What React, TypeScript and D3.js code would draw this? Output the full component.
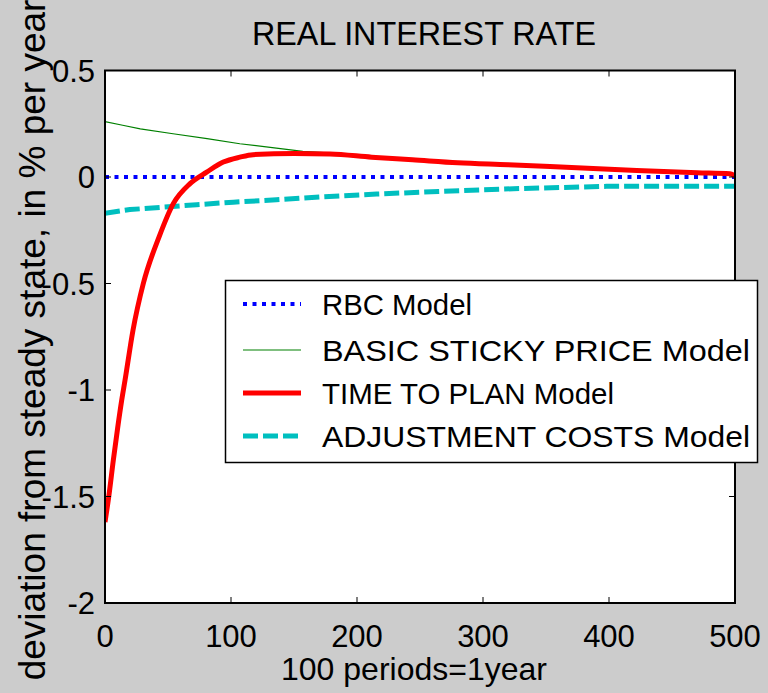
import React from "react";
import * as d3 from "d3";

const xTicks = [0, 100, 200, 300, 400, 500];
const yTicks = [0.5, 0, -0.5, -1, -1.5, -2];
const yTickLabels = ["0.5", "0", "-0.5", "-1", "-1.5", "-2"];

const rbcT = [0, 500];
const rbcV = [0, 0];

const stickyT = [0, 14, 28, 54, 81, 107, 136, 157, 180, 212, 244, 280, 320, 366, 422, 470, 500];
const stickyV = [0.26, 0.243, 0.226, 0.203, 0.18, 0.156, 0.136, 0.12, 0.112, 0.097, 0.085, 0.071, 0.061, 0.049, 0.034, 0.023, 0.01];

const planT = [0, 3, 6.6, 10, 13.2, 15.9, 22.2, 30.4, 43, 54.2, 67.5, 80.7, 93.9, 107, 117.5, 150, 178.6, 211.6, 244, 280, 320, 366, 422, 470, 496, 500];
const planV = [-1.62, -1.5, -1.33, -1.18, -1.05, -0.954, -0.72, -0.5, -0.28, -0.125, -0.031, 0.023, 0.07, 0.093, 0.105, 0.11, 0.108, 0.093, 0.081, 0.067, 0.058, 0.046, 0.031, 0.02, 0.015, 0.005];

const adjT = [0, 19.8, 72.8, 101.8, 136, 170.6, 215.6, 264.6, 324, 398, 500];
const adjV = [-0.17, -0.153, -0.13, -0.118, -0.107, -0.094, -0.08, -0.068, -0.055, -0.044, -0.044];

const legendLabels = ["RBC Model", "BASIC STICKY PRICE Model", "TIME TO PLAN Model", "ADJUSTMENT COSTS Model"];
const legendWidths = [150, 428, 292, 428];

const FONT = "'Liberation Sans', Arial, Helvetica, sans-serif";

export default function App() {
  const left = 105, right = 735, top = 70.5, bottom = 603;
  const x = d3.scaleLinear().domain([0, 500]).range([left, right]);
  const y = d3.scaleLinear().domain([-2, 0.5]).range([bottom, top]);
  const mk = (ts: number[], vs: number[], curve: d3.CurveFactory = d3.curveLinear) =>
    d3.line<number>().x((_, i) => x(ts[i])).y((_, i) => y(vs[i])).curve(curve)(vs.map((v) => v)) || "";

  const series = [
    { d: mk(rbcT, rbcV), stroke: "#0000ff", w: 4, dash: "4,5.5" },
    { d: mk(stickyT, stickyV), stroke: "#008000", w: 1.2, dash: undefined },
    { d: mk(planT, planV, d3.curveMonotoneX), stroke: "#ff0000", w: 5, dash: undefined },
    { d: mk(adjT, adjV), stroke: "#00bfbf", w: 5, dash: "15,5" },
  ];
  const order = [0, 1, 3, 2];
  const legY = [304, 350, 393, 436];
  const tickLen = 6;

  return (
    <svg width={768} height={693} style={{ position: "absolute", left: 0, top: 0 }} fontFamily={FONT}>
      <rect x={0} y={0} width={768} height={693} fill="#cccccc" />
      <rect x={left} y={top} width={right - left} height={bottom - top} fill="#ffffff" />
      <defs>
        <clipPath id="plotclip">
          <rect x={left} y={top} width={right - left} height={bottom - top} />
        </clipPath>
      </defs>
      <g clipPath="url(#plotclip)">
        {order.map((i) => (
          <path key={i} d={series[i].d} fill="none" stroke={series[i].stroke} strokeWidth={series[i].w} strokeDasharray={series[i].dash} strokeLinejoin="round" />
        ))}
      </g>
      {xTicks.map((t) => (
        <g key={"xt" + t}>
          <line x1={x(t)} x2={x(t)} y1={bottom} y2={bottom - tickLen} stroke="#000" strokeWidth={1} />
          <line x1={x(t)} x2={x(t)} y1={top} y2={top + tickLen} stroke="#000" strokeWidth={1} />
          <text x={x(t)} y={647} fontSize={31} textAnchor="middle" fill="#000">{t}</text>
        </g>
      ))}
      {yTicks.map((t, i) => (
        <g key={"yt" + t}>
          <line x1={left} x2={left + tickLen} y1={y(t)} y2={y(t)} stroke="#000" strokeWidth={1} />
          <line x1={right} x2={right - tickLen} y1={y(t)} y2={y(t)} stroke="#000" strokeWidth={1} />
          <text x={95} y={y(t) + 11} fontSize={31} textAnchor="end" fill="#000">{yTickLabels[i]}</text>
        </g>
      ))}
      <rect x={left} y={top} width={right - left} height={bottom - top} fill="none" stroke="#000" strokeWidth={2} />
      <text x={424} y={45} fontSize={33} textAnchor="middle" textLength={344} lengthAdjust="spacingAndGlyphs" fill="#000">REAL INTEREST RATE</text>
      <text x={414} y={680} fontSize={32} textAnchor="middle" fill="#000">100 periods=1year</text>
      <text transform={`translate(45,340) rotate(-90)`} fontSize={37} textAnchor="middle" fill="#000">deviation from steady state, in % per year</text>
      <rect x={225.5} y={280.5} width={532} height={182} fill="#ffffff" stroke="#000" strokeWidth={1.5} />
      {legendLabels.map((lab, i) => (
        <g key={lab}>
          <line x1={243} x2={301} y1={legY[i]} y2={legY[i]} stroke={series[i].stroke} strokeWidth={series[i].w} strokeDasharray={series[i].dash} />
          <text x={322} y={legY[i] + 11} fontSize={30} textLength={legendWidths[i]} lengthAdjust="spacingAndGlyphs" fill="#000">{lab}</text>
        </g>
      ))}
    </svg>
  );
}
